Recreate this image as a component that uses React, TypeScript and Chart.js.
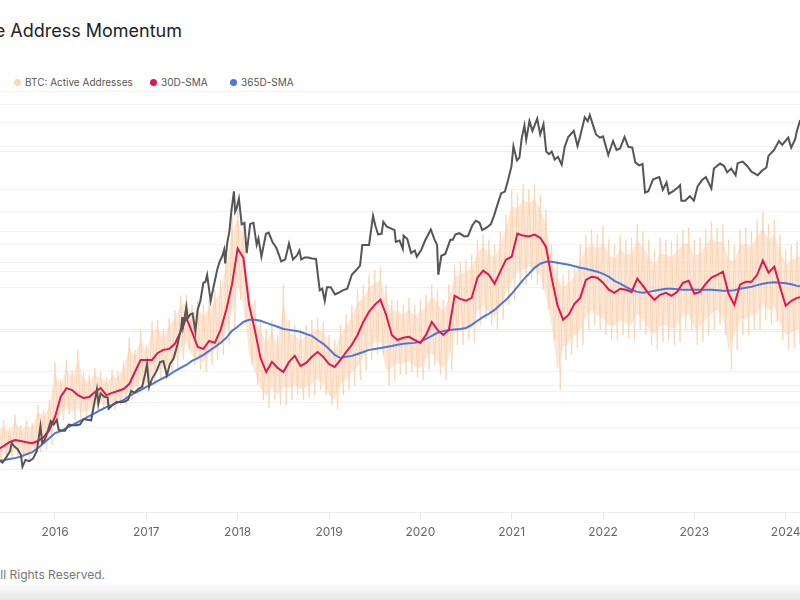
import { useEffect, useRef } from "react";
import { Chart, registerables } from "chart.js";

Chart.register(...registerables);

const TITLE = "Bitcoin: Active Address Momentum";
const FOOTER = "© 2024 Glassnode. All Rights Reserved.";

const legendItems = [
  { label: "BTC: Price", color: "#5b5b5b", left: -62 },
  { label: "BTC: Active Addresses", color: "#fbd6b8", left: 14 },
  { label: "30D-SMA", color: "#e5164d", left: 150 },
  { label: "365D-SMA", color: "#4a78dc", left: 230 },
];

const yearTicks = [2016, 2017, 2018, 2019, 2020, 2021, 2022, 2023, 2024];
const priceGrid = [100, 200, 400, 600, 800, 1000, 2000, 4000, 6000, 8000, 10000, 20000, 40000, 60000, 80000, 100000];

// visible date window (fractional years)
const X_MIN = 2015.398;
const X_MAX = 2024.1565;

// BTC price (USD)
const priceSeries: [string, number][] = [
  ["2015-05-01", 236], ["2015-05-20", 237], ["2015-06-05", 225], ["2015-06-20", 245],
  ["2015-07-05", 270], ["2015-07-12", 310], ["2015-07-25", 290], ["2015-08-05", 280],
  ["2015-08-18", 255], ["2015-08-24", 210], ["2015-09-05", 235], ["2015-09-20", 230],
  ["2015-10-05", 240], ["2015-10-20", 270], ["2015-11-04", 410], ["2015-11-11", 310],
  ["2015-11-20", 325], ["2015-12-01", 365], ["2015-12-15", 445], ["2015-12-27", 420],
  ["2016-01-08", 455], ["2016-01-16", 385], ["2016-01-28", 380], ["2016-02-10", 380],
  ["2016-02-25", 420], ["2016-03-10", 415], ["2016-03-25", 415], ["2016-04-10", 420],
  ["2016-04-25", 460], ["2016-05-10", 455], ["2016-05-25", 450], ["2016-06-05", 575],
  ["2016-06-17", 750], ["2016-06-23", 590], ["2016-07-02", 700], ["2016-07-15", 665],
  ["2016-07-30", 655], ["2016-08-03", 545], ["2016-08-20", 580], ["2016-09-05", 610],
  ["2016-09-20", 605], ["2016-10-05", 610], ["2016-10-20", 630], ["2016-11-01", 730],
  ["2016-11-15", 710], ["2016-12-01", 755], ["2016-12-15", 780], ["2016-12-28", 975],
  ["2017-01-04", 1130], ["2017-01-12", 780], ["2017-01-25", 900], ["2017-02-10", 1000],
  ["2017-02-25", 1170], ["2017-03-10", 1190], ["2017-03-24", 940], ["2017-04-05", 1130],
  ["2017-04-20", 1240], ["2017-05-05", 1550], ["2017-05-20", 2050], ["2017-05-25", 2450],
  ["2017-05-28", 2100], ["2017-06-10", 2900], ["2017-06-15", 2400], ["2017-06-25", 2550],
  ["2017-07-05", 2600], ["2017-07-16", 1930], ["2017-07-25", 2750], ["2017-08-05", 3200],
  ["2017-08-17", 4300], ["2017-08-25", 4350], ["2017-09-01", 4900], ["2017-09-15", 3200],
  ["2017-09-25", 3900], ["2017-10-12", 5400], ["2017-10-20", 6000], ["2017-11-01", 6700],
  ["2017-11-08", 7400], ["2017-11-12", 5900], ["2017-11-20", 8200], ["2017-11-29", 10000],
  ["2017-12-07", 14000], ["2017-12-17", 19300], ["2017-12-22", 13800], ["2017-12-28", 14700],
  ["2018-01-06", 17100], ["2018-01-17", 11200], ["2018-01-28", 11500], ["2018-02-06", 7000],
  ["2018-02-20", 11300], ["2018-03-05", 11500], ["2018-03-18", 8000], ["2018-03-25", 8900],
  ["2018-04-06", 6600], ["2018-04-24", 9600], ["2018-05-05", 9800], ["2018-05-20", 8400],
  ["2018-06-05", 7600], ["2018-06-24", 6100], ["2018-07-10", 6300], ["2018-07-25", 8200],
  ["2018-08-10", 6300], ["2018-08-25", 6700], ["2018-09-05", 7300], ["2018-09-12", 6300],
  ["2018-09-25", 6500], ["2018-10-10", 6500], ["2018-10-25", 6400], ["2018-11-10", 6350],
  ["2018-11-20", 4500], ["2018-11-25", 3800], ["2018-12-05", 3900], ["2018-12-15", 3200],
  ["2018-12-24", 4000], ["2019-01-08", 4000], ["2019-01-25", 3550], ["2019-02-08", 3650],
  ["2019-02-25", 3800], ["2019-03-15", 3900], ["2019-04-02", 4900], ["2019-04-20", 5300],
  ["2019-05-05", 5700], ["2019-05-14", 8000], ["2019-05-25", 8000], ["2019-06-10", 8000],
  ["2019-06-26", 12900], ["2019-07-05", 11000], ["2019-07-16", 9500], ["2019-07-30", 9600],
  ["2019-08-06", 11700], ["2019-08-20", 10800], ["2019-09-05", 10500], ["2019-09-20", 10200],
  ["2019-09-25", 8400], ["2019-10-10", 8600], ["2019-10-23", 7500], ["2019-10-26", 9300],
  ["2019-11-10", 8800], ["2019-11-25", 7000], ["2019-12-10", 7300], ["2019-12-18", 6600],
  ["2020-01-05", 7400], ["2020-01-20", 8600], ["2020-02-12", 10300], ["2020-02-26", 8800],
  ["2020-03-08", 8000], ["2020-03-13", 4900], ["2020-03-25", 6700], ["2020-04-10", 6900],
  ["2020-04-30", 8700], ["2020-05-10", 8700], ["2020-05-20", 9500], ["2020-06-05", 9700],
  ["2020-06-25", 9200], ["2020-07-10", 9250], ["2020-07-27", 11000], ["2020-08-10", 11900],
  ["2020-08-25", 11500], ["2020-09-05", 10200], ["2020-09-25", 10700], ["2020-10-10", 11300],
  ["2020-10-22", 12900], ["2020-11-05", 15500], ["2020-11-20", 18700], ["2020-12-05", 19200],
  ["2020-12-17", 23000], ["2020-12-31", 29000], ["2021-01-08", 40500], ["2021-01-22", 32000],
  ["2021-02-01", 33500], ["2021-02-10", 46000], ["2021-02-21", 57000], ["2021-02-28", 45000],
  ["2021-03-13", 61000], ["2021-03-25", 52000], ["2021-04-13", 63500], ["2021-04-25", 49000],
  ["2021-05-08", 58000], ["2021-05-19", 37000], ["2021-05-30", 35500], ["2021-06-10", 37000],
  ["2021-06-22", 32500], ["2021-07-05", 34000], ["2021-07-20", 29800], ["2021-08-01", 40000],
  ["2021-08-15", 47000], ["2021-09-06", 52000], ["2021-09-21", 40500], ["2021-10-01", 47000],
  ["2021-10-20", 65000], ["2021-11-01", 61000], ["2021-11-09", 67500], ["2021-11-20", 58500],
  ["2021-12-04", 49000], ["2021-12-20", 46500], ["2022-01-01", 47500], ["2022-01-22", 35000],
  ["2022-02-10", 44000], ["2022-02-24", 38000], ["2022-03-10", 39000], ["2022-03-28", 47000],
  ["2022-04-12", 40000], ["2022-04-28", 39500], ["2022-05-10", 31000], ["2022-05-25", 29500],
  ["2022-06-08", 30200], ["2022-06-18", 18900], ["2022-07-01", 19300], ["2022-07-20", 23500],
  ["2022-08-14", 24400], ["2022-08-28", 19800], ["2022-09-12", 22300], ["2022-09-21", 18500],
  ["2022-10-10", 19400], ["2022-10-28", 20600], ["2022-11-05", 21300], ["2022-11-10", 16500],
  ["2022-11-25", 16500], ["2022-12-14", 17800], ["2022-12-30", 16550], ["2023-01-14", 20900],
  ["2023-01-31", 23100], ["2023-02-16", 24400], ["2023-03-10", 20200], ["2023-03-20", 28000],
  ["2023-04-14", 30400], ["2023-04-30", 29200], ["2023-05-12", 26300], ["2023-05-28", 28000],
  ["2023-06-15", 25100], ["2023-06-23", 30600], ["2023-07-13", 31400], ["2023-07-31", 29200],
  ["2023-08-17", 26600], ["2023-09-11", 25100], ["2023-09-28", 27000], ["2023-10-16", 28500],
  ["2023-10-24", 34500], ["2023-11-15", 37900], ["2023-12-05", 44000], ["2023-12-18", 41300],
  ["2024-01-11", 46600], ["2024-01-23", 39500], ["2024-02-08", 45300], ["2024-02-15", 52000],
  ["2024-02-28", 62000], ["2024-03-05", 66000],
];

// Active addresses series (thousands), sampled every 1/16 year from 2015.375
const addrStart = 2015.375;
const addrStep = 0.0625;

const activeHigh = [
  361, 382, 349, 403, 361, 382, 370, 445, 424, 465,
  624, 549, 632, 590, 674, 582, 570, 599, 582, 557,
  590, 582, 624, 724, 674, 757, 695, 790, 799, 757,
  807, 840, 899, 903, 861, 882, 861, 882, 924, 965,
  1090, 1236, 1278, 1195, 945, 882, 799, 757, 799, 736,
  945, 799, 778, 757, 778, 799, 807, 790, 736, 715,
  778, 820, 861, 924, 945, 986, 1007, 1015, 945, 882,
  882, 861, 890, 861, 882, 903, 945, 924, 882, 945,
  1028, 1040, 1049, 1070, 1132, 1153, 1132, 1111, 1165, 1236,
  1340, 1320, 1361, 1340, 1361, 1320, 1257, 1111, 1049, 986,
  1007, 1028, 1111, 1153, 1174, 1153, 1190, 1132, 1111, 1153,
  1132, 1140, 1195, 1165, 1132, 1090, 1140, 1132, 1124, 1153,
  1174, 1182, 1132, 1140, 1174, 1207, 1182, 1195, 1132, 1111,
  1174, 1182, 1165, 1215, 1249, 1195, 1215, 1153, 1090, 1111,
  1124, 1132,
];

const activeLow = [
  207, 215, 224, 228, 224, 215, 236, 249, 257, 278,
  340, 382, 403, 382, 390, 382, 403, 415, 432, 424,
  424, 445, 445, 465, 486, 507, 499, 528, 549, 570,
  582, 599, 632, 674, 611, 590, 582, 611, 632, 653,
  695, 757, 882, 799, 611, 528, 465, 432, 465, 445,
  445, 465, 486, 465, 474, 486, 507, 486, 445, 424,
  486, 507, 528, 549, 590, 632, 653, 653, 528, 549,
  570, 570, 582, 557, 549, 590, 611, 570, 549, 590,
  695, 695, 715, 707, 778, 807, 778, 757, 799, 861,
  882, 945, 945, 965, 945, 924, 840, 715, 507, 632,
  653, 682, 695, 757, 778, 757, 736, 715, 715, 736,
  724, 715, 757, 736, 695, 674, 707, 715, 695, 707,
  757, 757, 695, 707, 736, 757, 778, 736, 590, 674,
  736, 736, 757, 757, 799, 778, 790, 715, 674, 682,
  695, 695,
];

const sma30 = [
  261, 274, 290, 299, 295, 290, 286, 295, 311, 340,
  395, 478, 515, 507, 486, 474, 478, 499, 515, 486,
  495, 503, 511, 532, 582, 632, 632, 632, 661, 674,
  678, 699, 749, 807, 749, 686, 678, 711, 703, 757,
  840, 945, 1095, 1057, 861, 757, 640, 582, 624, 599,
  582, 624, 649, 607, 620, 645, 665, 645, 615, 603,
  632, 665, 695, 736, 790, 832, 861, 882, 820, 736,
  715, 724, 728, 715, 703, 736, 790, 757, 736, 757,
  899, 886, 878, 890, 974, 1003, 986, 949, 999, 1049,
  1061, 1157, 1149, 1145, 1153, 1140, 1103, 974, 861, 799,
  820, 865, 890, 965, 978, 974, 953, 924, 911, 928,
  924, 915, 970, 940, 907, 882, 903, 911, 899, 915,
  953, 961, 907, 915, 949, 974, 986, 999, 907, 861,
  945, 957, 957, 986, 1045, 995, 1020, 936, 857, 878,
  890, 895,
];

const sma365 = [
  211, 215, 220, 224, 230, 240, 249, 265, 286, 307,
  328, 336, 349, 361, 374, 386, 399, 411, 424, 436,
  445, 455, 465, 482, 495, 507, 520, 532, 545, 557,
  570, 586, 599, 611, 628, 640, 653, 670, 686, 703,
  724, 753, 770, 790, 799, 799, 795, 786, 778, 770,
  761, 757, 753, 749, 740, 732, 715, 699, 678, 653,
  640, 645, 649, 657, 665, 674, 678, 682, 686, 690,
  695, 699, 701, 703, 707, 720, 732, 745, 751, 757,
  759, 761, 765, 778, 795, 811, 824, 840, 861, 882,
  907, 936, 965, 990, 1015, 1032, 1040, 1040, 1036, 1032,
  1028, 1022, 1015, 1011, 1005, 999, 990, 978, 961, 949,
  936, 924, 915, 911, 915, 920, 924, 928, 928, 926,
  924, 924, 924, 924, 924, 924, 922, 920, 920, 922,
  928, 932, 936, 943, 949, 953, 955, 953, 951, 947,
  940, 936,
];

function toYear(d: string): number {
  const [y, m, dd] = d.split("-").map(Number);
  const s = Date.UTC(y, 0, 1);
  const e = Date.UTC(y + 1, 0, 1);
  return y + (Date.UTC(y, m - 1, dd) - s) / (e - s);
}

const FONT = "Inter, 'Noto Sans', sans-serif";

export default function App() {
  const ref = useRef<HTMLCanvasElement | null>(null);

  useEffect(() => {
    if (!ref.current) return;
    const tAt = (i: number) => addrStart + i * addrStep;
    const zig: { x: number; y: number }[] = [];
    activeHigh.forEach((h, i) => {
      zig.push({ x: tAt(i), y: h });
      zig.push({ x: tAt(i) + addrStep / 2, y: activeLow[i] });
    });
    const chart = new Chart(ref.current, {
      type: "line",
      data: {
        datasets: [
          {
            label: "BTC: Price",
            data: priceSeries.map(([d, v]) => ({ x: toYear(d), y: v })),
            yAxisID: "y1",
            borderColor: "#555555",
            borderWidth: 2,
            fill: false,
          },
          {
            label: "30D-SMA",
            data: sma30.map((v, i) => ({ x: tAt(i), y: v })),
            yAxisID: "y",
            borderColor: "#e5164d",
            borderWidth: 2,
            fill: false,
          },
          {
            label: "365D-SMA",
            data: sma365.map((v, i) => ({ x: tAt(i), y: v })),
            yAxisID: "y",
            borderColor: "#4a78dc",
            borderWidth: 2,
            fill: false,
          },
          {
            label: "BTC: Active Addresses",
            data: zig,
            yAxisID: "y",
            borderColor: "rgba(249,207,170,0.75)",
            borderWidth: 1,
            fill: false,
          },
          {
            label: "hi",
            data: activeHigh.map((v, i) => ({ x: tAt(i), y: v * 0.85 + activeLow[i] * 0.15 })),
            yAxisID: "y",
            borderWidth: 0,
            borderColor: "rgba(0,0,0,0)",
            fill: false,
          },
          {
            label: "lo",
            data: activeLow.map((v, i) => ({ x: tAt(i), y: v * 0.85 + activeHigh[i] * 0.15 })),
            yAxisID: "y",
            borderWidth: 0,
            borderColor: "rgba(0,0,0,0)",
            backgroundColor: "rgba(251,214,184,0.55)",
            fill: "-1",
          },
        ],
      },
      options: {
        animation: false,
        responsive: false,
        maintainAspectRatio: false,
        layout: { autoPadding: false, padding: { top: 6, left: 0, right: 0, bottom: 0 } },
        elements: { point: { radius: 0 }, line: { tension: 0 } },
        plugins: {
          legend: { display: false },
          tooltip: { enabled: false },
          title: { display: false },
        },
        scales: {
          x: {
            type: "linear",
            min: X_MIN,
            max: X_MAX,
            afterBuildTicks: (s: any) => {
              s.ticks = yearTicks.map((v) => ({ value: v }));
            },
            afterFit: (s: any) => {
              s.height = 40;
              s.paddingLeft = 0;
              s.paddingRight = 0;
            },
            ticks: {
              callback: (v: any) => String(v),
              color: "#666",
              font: { family: FONT, size: 12 },
              padding: 6,
              maxRotation: 0,
              autoSkip: false,
            },
            grid: { drawOnChartArea: false, color: "#e6e6e6", tickLength: 7 },
            border: { color: "#ebebeb" },
          },
          y: {
            type: "linear",
            position: "left",
            min: 0,
            max: 1750,
            ticks: { display: false, stepSize: 250 },
            grid: { color: "#f1f1f1", drawTicks: false },
            border: { display: false },
            afterFit: (s: any) => {
              s.width = 0;
              s.paddingTop = 0;
              s.paddingBottom = 0;
            },
          },
          y1: {
            type: "logarithmic",
            position: "right",
            min: 100,
            max: 100000,
            afterBuildTicks: (s: any) => {
              s.ticks = priceGrid.map((v) => ({ value: v }));
            },
            ticks: { display: false },
            grid: { color: "#f1f1f1", drawTicks: false },
            border: { display: false },
            afterFit: (s: any) => {
              s.width = 0;
              s.paddingTop = 0;
              s.paddingBottom = 0;
            },
          },
        },
      },
    });
    return () => chart.destroy();
  }, []);

  return (
    <div
      style={{
        position: "absolute",
        left: 0,
        top: 0,
        width: 800,
        height: 600,
        overflow: "hidden",
        background: "#fff",
        fontFamily: FONT,
      }}
    >
      <div
        style={{
          position: "absolute",
          right: 618,
          top: 20,
          fontSize: 18,
          color: "#222",
          whiteSpace: "nowrap",
        }}
      >
        {TITLE}
      </div>
      {legendItems.map((it) => (
        <div
          key={it.label}
          style={{
            position: "absolute",
            left: it.left,
            top: 76,
            display: "flex",
            alignItems: "center",
            whiteSpace: "nowrap",
            fontSize: 10,
            color: "#555",
          }}
        >
          <span
            style={{
              display: "inline-block",
              width: 7,
              height: 7,
              borderRadius: "50%",
              background: it.color,
              marginRight: 4,
            }}
          />
          {it.label}
        </div>
      ))}
      <canvas
        ref={ref}
        width={800}
        height={467}
        style={{ position: "absolute", left: 0, top: 85, width: 800, height: 467 }}
      />
      <div
        style={{
          position: "absolute",
          right: 695,
          top: 567,
          fontSize: 12,
          color: "#777",
          whiteSpace: "nowrap",
        }}
      >
        {FOOTER}
      </div>
      <div
        style={{
          position: "absolute",
          left: 0,
          top: 582,
          width: 800,
          height: 18,
          background: "linear-gradient(to bottom, rgba(233,233,233,0), #e6e6e6)",
        }}
      />
    </div>
  );
}
